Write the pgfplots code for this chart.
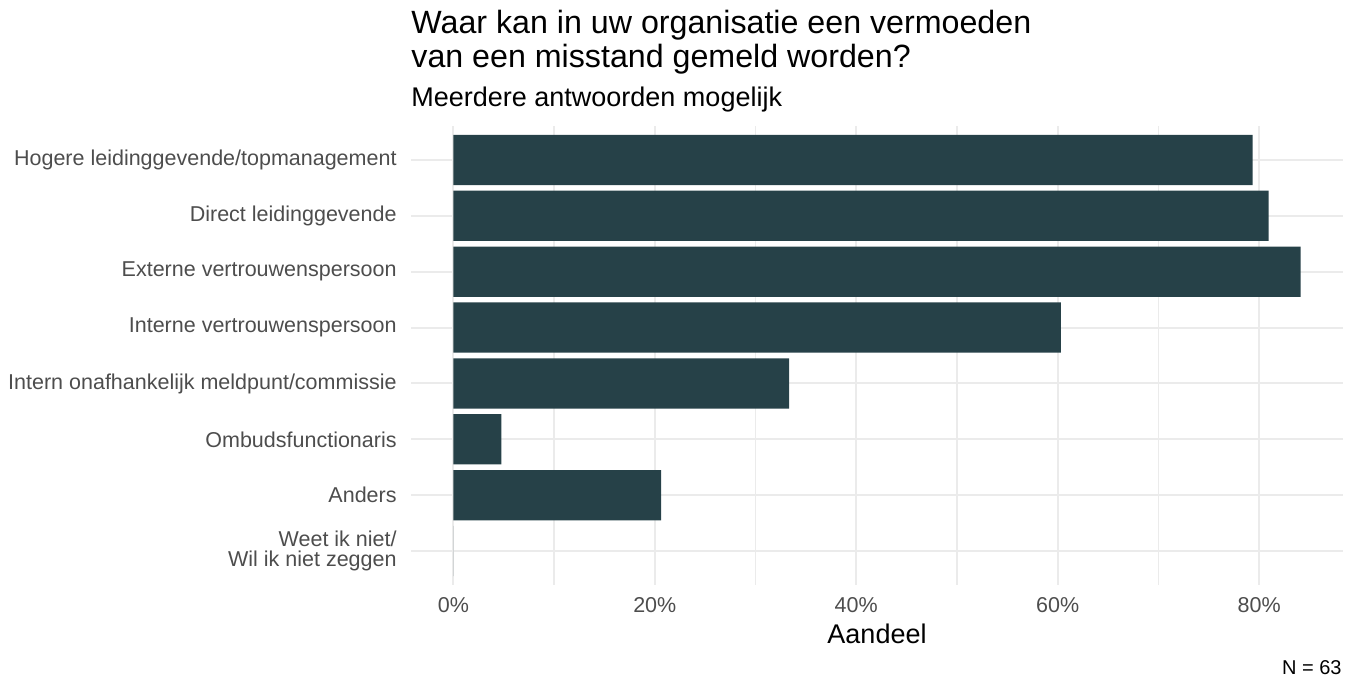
\documentclass[border=0pt]{standalone}
\usepackage{fontspec}
\setmainfont{Liberation Sans}
\usepackage{pgfplots}
\pgfplotsset{compat=1.18}
\definecolor{barcol}{RGB}{38,65,72}
\definecolor{gridcol}{RGB}{235,235,235}
\definecolor{tickcol}{RGB}{77,77,77}
\begin{document}
\begin{tikzpicture}
\path[use as bounding box] (0pt,0pt) rectangle (677pt,341pt);
\begin{axis}[
  at={(205.5pt,48.7pt)}, anchor=south west,
  scale only axis, width=466pt, height=229.1pt,
  xmin=-4.206, xmax=88.33, ymin=0.4, ymax=8.6, y dir=reverse,
  axis line style={draw=none},
  tick style={draw=none},
  xtick={0,20,40,60,80}, minor xtick={10,30,50,70},
  xticklabels={0\%,20\%,40\%,60\%,80\%},
  ytick={1,2,3,4,5,6,7,8},
  yticklabels={Hogere leidinggevende/topmanagement, Direct leidinggevende, Externe vertrouwenspersoon, Interne vertrouwenspersoon, Intern onafhankelijk meldpunt/commissie, Ombudsfunctionaris, Anders, {Weet ik niet/\\Wil ik niet zeggen}},
  grid=both,
  major grid style={gridcol, line width=1pt},
  minor grid style={gridcol, line width=0.7pt},
  xticklabel style={font=\fontsize{10.75}{12}\selectfont, text=tickcol, inner sep=0pt, anchor=north, yshift=-6pt},
  yticklabel style={font=\fontsize{10.75}{10}\selectfont, text=tickcol, align=right, inner sep=0pt, anchor=east, xshift=-7pt},
]
\addplot[xbar, fill=barcol, draw=none, bar width=0.9] coordinates {
(79.365,1) (80.952,2) (84.127,3) (60.317,4) (33.333,5) (4.762,6) (20.635,7) (0,8)};
\end{axis}
\node[anchor=base west, inner sep=0pt, font=\fontsize{16.1}{16}\selectfont] at (205.5pt,324.4pt) {Waar kan in uw organisatie een vermoeden};
\node[anchor=base west, inner sep=0pt, font=\fontsize{16.1}{16}\selectfont] at (205.5pt,307.1pt) {van een misstand gemeld worden?};
\node[anchor=base west, inner sep=0pt, font=\fontsize{13.5}{13.5}\selectfont] at (205.5pt,287.5pt) {Meerdere antwoorden mogelijk};
\node[anchor=base, inner sep=0pt, font=\fontsize{13.5}{13.5}\selectfont] at (438.5pt,19.5pt) {Aandeel};
\node[anchor=base east, inner sep=0pt, font=\fontsize{10}{10}\selectfont] at (671pt,4pt) {N = 63};
\end{tikzpicture}
\end{document}
